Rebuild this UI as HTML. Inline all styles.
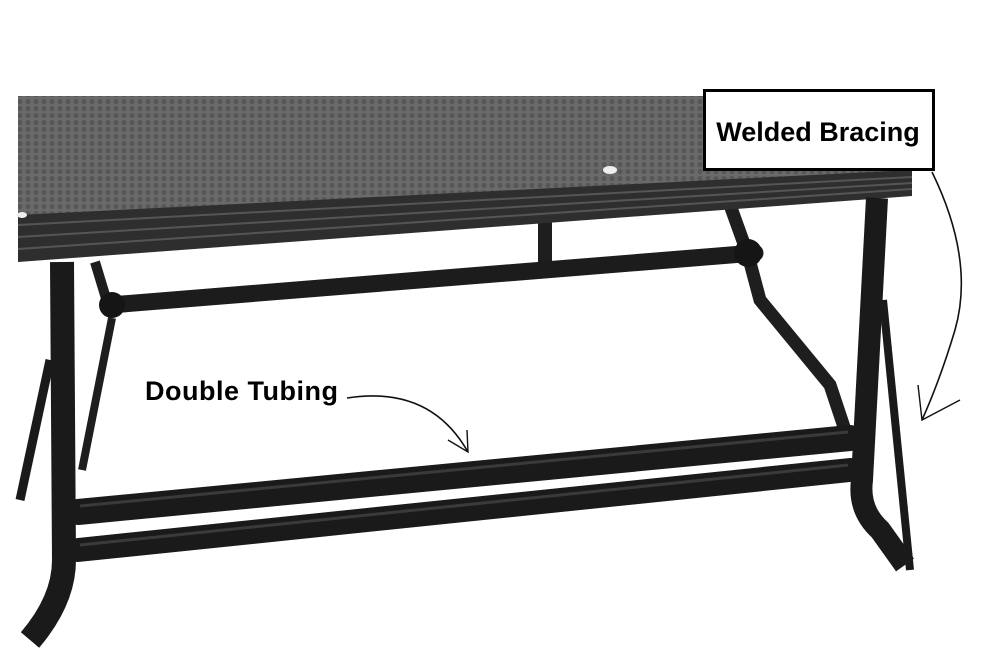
<!DOCTYPE html>
<html><head><meta charset="utf-8"><style>
html,body{margin:0;padding:0;background:#fff}
svg{display:block}
</style></head><body>
<svg width="1000" height="650" viewBox="0 0 1000 650" xmlns="http://www.w3.org/2000/svg">
<defs>
<pattern id="hex" width="8" height="7" patternUnits="userSpaceOnUse">
<rect width="8" height="7" fill="#6a6a6a"/>
<circle cx="4" cy="3.5" r="2.6" fill="#575757"/>
</pattern>
</defs>
<line x1="545" y1="220" x2="545" y2="262" stroke="#1e1e1e" stroke-width="14"/>
<line x1="730" y1="205" x2="748" y2="255" stroke="#1e1e1e" stroke-width="13"/>
<path d="M748 255 L760 300 L830 385 L845 430" fill="none" stroke="#1e1e1e" stroke-width="13"/>
<line x1="95" y1="262" x2="108" y2="305" stroke="#1e1e1e" stroke-width="10"/>
<line x1="112" y1="318" x2="82" y2="470" stroke="#1e1e1e" stroke-width="8"/>
<line x1="110" y1="305" x2="755" y2="253" stroke="#1c1c1c" stroke-width="17" stroke-linecap="round"/>
<circle cx="112" cy="305" r="13" fill="#151515"/>
<circle cx="748" cy="253" r="14" fill="#151515"/>
<polygon points="18,96 912,96 912,172 18,218" fill="url(#hex)"/>
<polygon points="18,215 912,170 912,196 18,262" fill="#2e2e2e"/>
<line x1="18" y1="225" x2="912" y2="177" stroke="#555" stroke-width="2"/>
<line x1="18" y1="237" x2="912" y2="183" stroke="#555" stroke-width="2"/>
<line x1="18" y1="249" x2="912" y2="189" stroke="#555" stroke-width="2"/>
<ellipse cx="610" cy="170" rx="7" ry="4" fill="#eee"/>
<ellipse cx="22" cy="215" rx="5" ry="3" fill="#eee"/>
<path d="M62 262 L64 560 Q64 600 30 640" fill="none" stroke="#1a1a1a" stroke-width="24"/>
<path d="M50 360 L20 500" fill="none" stroke="#1a1a1a" stroke-width="9"/>
<path d="M877 198 L862 480 Q858 510 880 530 L905 565" fill="none" stroke="#1a1a1a" stroke-width="22"/>
<path d="M883 300 L910 570" fill="none" stroke="#1a1a1a" stroke-width="8"/>
<line x1="78" y1="512" x2="850" y2="438" stroke="#1a1a1a" stroke-width="26" stroke-linecap="round"/>
<line x1="78" y1="550" x2="850" y2="470" stroke="#1a1a1a" stroke-width="24" stroke-linecap="round"/>
<line x1="80" y1="506" x2="848" y2="432" stroke="#3a3a3a" stroke-width="3"/>
<line x1="80" y1="545" x2="848" y2="465" stroke="#3a3a3a" stroke-width="3"/>
<rect x="704.5" y="90.5" width="229" height="79" fill="#fff" stroke="#000" stroke-width="3"/>
<text x="818" y="141" text-anchor="middle" font-family="Liberation Sans, sans-serif" font-weight="bold" font-size="27" fill="#000">Welded Bracing</text>
<text x="145" y="400" font-family="Liberation Sans, sans-serif" font-weight="bold" font-size="27" letter-spacing="0.5" fill="#000">Double Tubing</text>
<path d="M347 398 Q430 385 468 452" fill="none" stroke="#111" stroke-width="1.6"/>
<path d="M448 440 L468 452 L467 430" fill="none" stroke="#111" stroke-width="1.4"/>
<path d="M932 172 Q975 260 955 330 Q940 380 922 420" fill="none" stroke="#111" stroke-width="1.6"/>
<path d="M918 385 L922 420 L960 400" fill="none" stroke="#111" stroke-width="1.4"/>
</svg>
</body></html>
